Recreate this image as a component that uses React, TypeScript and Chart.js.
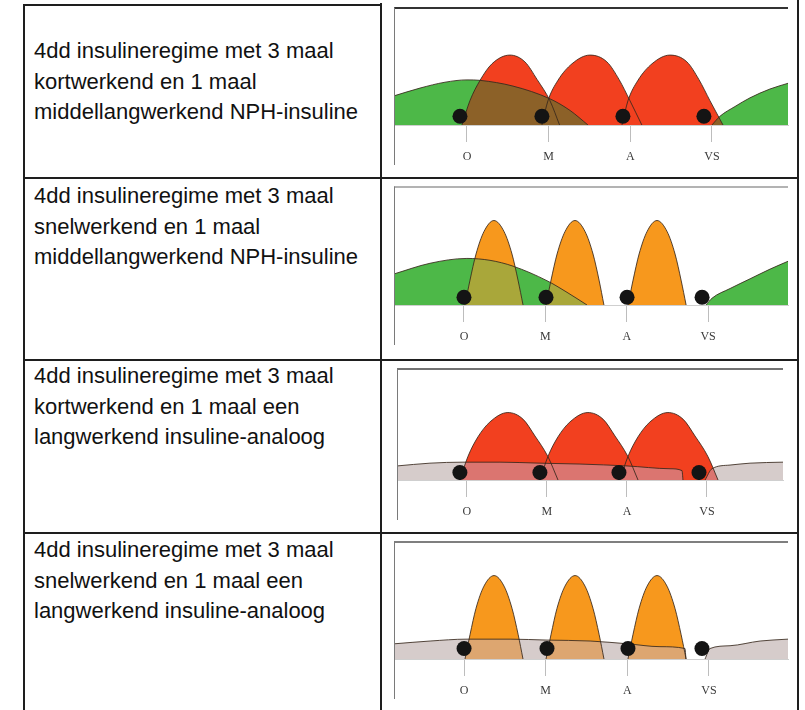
import React, { useEffect, useRef } from 'react';
import { Chart, registerables } from 'chart.js';

// ---------- data ----------
const tickHours = [8, 13, 18, 23];
const tickLabels = ['O', 'M', 'A', 'VS'];

const regimeTexts = [
  ['4dd insulineregime met 3 maal', 'kortwerkend en 1 maal', 'middellangwerkend NPH-insuline'],
  ['4dd insulineregime met 3 maal', 'snelwerkend en 1 maal', 'middellangwerkend NPH-insuline'],
  ['4dd insulineregime met 3 maal', 'kortwerkend en 1 maal een', 'langwerkend insuline-analoog'],
  ['4dd insulineregime met 3 maal', 'snelwerkend en 1 maal een', 'langwerkend insuline-analoog'],
];

// Row 1: kortwerkend (red) + NPH (green)
const r1PeakY = [0, 20.7, 38.0, 52.1, 59.5, 53.7, 38.8, 20.7, 0];
const r1Peak1X = [7.69, 8.18, 8.8, 9.53, 10.63, 11.55, 12.29, 13.08, 13.67];
const r1Peak2X = [12.59, 12.96, 13.57, 14.43, 15.53, 16.57, 17.31, 17.98, 18.71];
const r1Peak3X = [17.49, 17.86, 18.47, 19.33, 20.43, 21.47, 22.2, 22.88, 23.68];
const r1Basal1 = [[3.53, 24.8], [5.12, 31.4], [6.65, 36.4], [8.0, 38.4], [8.8, 38.0], [10.82, 33.1], [13.08, 22.3], [14.31, 12.4], [15.41, 0]];
const r1Basal2 = [[23.0, 0], [23.49, 7.4], [24.41, 15.7], [25.33, 23.1], [26.55, 30.6], [27.66, 35.5]];
const r1DotX = [7.57, 12.59, 17.55, 22.51];
const r1DotY = [7.4, 7.4, 7.4, 7.4];

// Row 2: snelwerkend (orange) + NPH (green)
const r2PeakY = [0, 21, 43, 62, 71.3, 62, 43, 21, 0];
const r2Peak1X = [8.06, 8.37, 8.74, 9.23, 9.84, 10.46, 10.95, 11.32, 11.63];
const r2Peak2X = [13.04, 13.35, 13.72, 14.21, 14.82, 15.44, 15.93, 16.3, 16.6];
const r2Peak3X = [18.08, 18.39, 18.76, 19.25, 19.86, 20.48, 20.97, 21.34, 21.65];
const r2Basal1 = [[3.7, 26.2], [5.91, 35.2], [8.18, 39.3], [9.6, 37.7], [11.01, 32.8], [13.1, 20.5], [14.33, 10.7], [15.56, 0]];
const r2Basal2 = [[22.87, 0], [23.24, 5.7], [24.35, 13.9], [25.58, 22.1], [26.81, 30.3], [27.91, 36.9]];
const r2DotX = [8.0, 13.04, 18.02, 22.63];
const r2DotY = [6.6, 6.6, 6.6, 6.6];

// Row 3: kortwerkend (red) + langwerkend analoog (grey)
const r3PeakY = [0, 21.0, 38.7, 52.1, 60.5, 54.6, 39.5, 21.0, 0];
const r3Peak1X = [7.56, 8.06, 8.69, 9.44, 10.56, 11.5, 12.25, 13.06, 13.69];
const r3Peak2X = [12.56, 13.06, 13.69, 14.44, 15.56, 16.5, 17.25, 18.06, 18.69];
const r3Peak3X = [17.56, 18.06, 18.69, 19.44, 20.56, 21.5, 22.25, 23.06, 23.69];
const r3Basal1 = [[3.63, 12.6], [5.69, 15.1], [7.75, 16.0], [10.06, 16.0], [12.56, 15.1], [15.06, 14.3], [18.0, 12.6], [20.69, 10.1], [21.44, 8.4], [21.5, 0]];
const r3Basal2 = [[22.88, 0], [23.31, 10.1], [24.44, 13.4], [25.69, 15.1], [27.75, 16.0]];
const r3DotX = [7.56, 12.56, 17.5, 22.5];
const r3DotY = [6.7, 6.7, 6.7, 6.7];

// Row 4: snelwerkend (orange) + langwerkend analoog (grey)
const r4PeakY = [0, 21, 43, 62, 71, 62, 43, 21, 0];
const r4Peak1X = [8.06, 8.37, 8.73, 9.22, 9.84, 10.45, 10.94, 11.31, 11.61];
const r4Peak2X = [13.02, 13.33, 13.69, 14.18, 14.8, 15.41, 15.9, 16.27, 16.57];
const r4Peak3X = [18.04, 18.35, 18.72, 19.21, 19.82, 20.43, 20.92, 21.29, 21.6];
const r4Basal1 = [[3.71, 12.9], [5.92, 15.3], [8.18, 16.9], [10.82, 16.9], [13.08, 16.1], [15.72, 15.3], [18.04, 12.9], [20.0, 10.5], [21.53, 8.9], [21.59, 0]];
const r4Basal2 = [[22.76, 0], [23.06, 8.9], [24.29, 11.3], [26.13, 15.3], [27.84, 16.9]];
const r4DotX = [8.0, 13.08, 18.04, 22.57];
const r4DotY = [8.9, 8.9, 8.9, 8.9];

// ---------- plugins ----------
const compositePlugin = {
  id: 'insulinComposite',
  beforeDatasetDraw(chart: any, args: any) {
    const ds: any = chart.data.datasets[args.index];
    chart.ctx.save();
    chart.ctx.globalCompositeOperation = ds.composite || 'source-over';
  },
  afterDatasetDraw(chart: any) {
    chart.ctx.restore();
  },
};
Chart.register(compositePlugin as any);
Chart.register(...registerables);

const framePlugin = {
  id: 'frameLines',
  afterDraw(chart: any, _a: any, opts: any) {
    const { ctx, chartArea } = chart;
    const xs = chart.scales.x;
    ctx.save();
    ctx.strokeStyle = opts.topColor;
    ctx.lineWidth = opts.topWidth;
    ctx.beginPath();
    ctx.moveTo(chartArea.left, chartArea.top + 0.5);
    ctx.lineTo(chartArea.right, chartArea.top + 0.5);
    ctx.stroke();
    ctx.strokeStyle = '#7a7a7a';
    ctx.lineWidth = 1;
    ctx.beginPath();
    ctx.moveTo(chartArea.left + 0.5, chartArea.top);
    ctx.lineTo(chartArea.left + 0.5, xs.bottom);
    ctx.stroke();
    ctx.restore();
  },
};

const RED = '#F2401F';
const ORANGE = '#F7981D';
const GREEN = '#4DB848';
const GREY = '#D6CCCB';
const OUTLINE = 'rgba(55,40,28,0.85)';

const rows = [
  {
    top: 0, height: 177, pad: { left: 12, right: 9, top: 4, bottom: 12 }, xmin: 3.53, xmax: 27.66,
    peaks: [r1Peak1X, r1Peak2X, r1Peak3X], peakY: r1PeakY, basal: [r1Basal1, r1Basal2],
    dotX: r1DotX, dotY: r1DotY, peakColor: RED, basalColor: GREEN, overlapColor: '#8C6128',
    topColor: '#333', topWidth: 2,
  },
  {
    top: 179, height: 180, pad: { left: 12, right: 9, top: 4, bottom: 14 }, xmin: 3.7, xmax: 27.91,
    peaks: [r2Peak1X, r2Peak2X, r2Peak3X], peakY: r2PeakY, basal: [r2Basal1, r2Basal2],
    dotX: r2DotX, dotY: r2DotY, peakColor: ORANGE, basalColor: GREEN, overlapColor: '#A9A73A',
    topColor: '#9a9a9a', topWidth: 1.5,
  },
  {
    top: 361, height: 171, pad: { left: 15, right: 14, top: 0, bottom: 12 }, xmin: 3.63, xmax: 27.75,
    peaks: [r3Peak1X, r3Peak2X, r3Peak3X], peakY: r3PeakY, basal: [r3Basal1, r3Basal2],
    dotX: r3DotX, dotY: r3DotY, peakColor: RED, basalColor: GREY, overlapColor: '#DB7570',
    topColor: '#444', topWidth: 1.5,
  },
  {
    top: 534, height: 176, pad: { left: 12, right: 9, top: 1, bottom: 11 }, xmin: 3.71, xmax: 27.84,
    peaks: [r4Peak1X, r4Peak2X, r4Peak3X], peakY: r4PeakY, basal: [r4Basal1, r4Basal2],
    dotX: r4DotX, dotY: r4DotY, peakColor: ORANGE, basalColor: GREY, overlapColor: '#DDA670',
    topColor: '#555', topWidth: 1.5,
  },
];

function RowChart({ cfg }: { cfg: any }) {
  const ref = useRef<HTMLCanvasElement>(null);
  useEffect(() => {
    if (!ref.current) return;
    const datasets: any[] = [];
    let seq = 0;
    const push = (d: any) => datasets.push({ ...d, order: 1000 - seq++ });
    const curve = {
      pointRadius: 0, cubicInterpolationMode: 'monotone', borderWidth: 0,
      borderColor: 'transparent', spanGaps: false,
    };
    const peakPts = cfg.peaks.map((xs: number[]) => xs.map((x, i) => ({ x, y: cfg.peakY[i] })));
    const basalPts = cfg.basal.map((b: number[][]) => b.map(([x, y]) => ({ x, y })));

    peakPts.forEach((d: any) => push({ ...curve, data: d, fill: 'origin', backgroundColor: cfg.peakColor, composite: 'source-over' }));
    basalPts.forEach((d: any) => push({ ...curve, data: d, fill: 'origin', backgroundColor: cfg.overlapColor, composite: 'source-atop' }));
    basalPts.forEach((d: any) => push({ ...curve, data: d, fill: 'origin', backgroundColor: cfg.basalColor, composite: 'destination-over' }));
    [...basalPts, ...peakPts].forEach((d: any) =>
      push({ ...curve, data: d, fill: false, borderWidth: 1, borderColor: OUTLINE, composite: 'source-over' }));
    push({
      data: cfg.dotX.map((x: number, i: number) => ({ x, y: cfg.dotY[i] })),
      showLine: false, pointRadius: 7.5, pointBackgroundColor: '#141414', pointBorderWidth: 0,
      pointBorderColor: '#141414', composite: 'source-over',
    });

    const chart = new Chart(ref.current, {
      type: 'line',
      data: { datasets },
      options: {
        animation: false,
        responsive: false,
        maintainAspectRatio: false,
        events: [],
        layout: { padding: cfg.pad },
        plugins: {
          legend: { display: false },
          tooltip: { enabled: false },
          frameLines: { topColor: cfg.topColor, topWidth: cfg.topWidth },
        } as any,
        scales: {
          x: {
            type: 'linear',
            min: cfg.xmin,
            max: cfg.xmax,
            z: 1,
            afterBuildTicks: (s: any) => { s.ticks = tickHours.map((v) => ({ value: v })); },
            afterFit: (s: any) => { s.height = 40; },
            ticks: {
              autoSkip: false,
              maxRotation: 0,
              padding: 8,
              color: '#3a3a3a',
              font: { family: '"Liberation Serif", "DejaVu Serif", serif', size: 12 },
              callback: (v: any) => {
                const i = tickHours.indexOf(Number(v));
                return i >= 0 ? tickLabels[i] : '';
              },
            },
            grid: { display: true, drawOnChartArea: false, drawTicks: true, tickLength: 17, color: '#bdbdbd', lineWidth: 1 },
            border: { display: true, color: '#cfcfcf', width: 1 },
          },
          y: { type: 'linear', display: false, min: 0, max: 100 },
        },
      } as any,
      plugins: [framePlugin as any],
    });
    return () => chart.destroy();
  }, [cfg]);
  return (
    <canvas
      ref={ref}
      width={415}
      height={cfg.height}
      style={{ position: 'absolute', left: 382, top: cfg.top, width: 415, height: cfg.height }}
    />
  );
}

const textTops = [36, 181, 361, 535];

export default function App() {
  const line = (s: any) => ({ position: 'absolute' as const, background: '#1e1e1e', ...s });
  return (
    <div style={{ position: 'absolute', left: 0, top: 0, width: 805, height: 710, background: '#fff', overflow: 'hidden' }}>
      {regimeTexts.map((lines, i) => (
        <div
          key={i}
          style={{
            position: 'absolute', left: 34, top: textTops[i], whiteSpace: 'nowrap',
            fontFamily: '"Liberation Sans", Arial, sans-serif', fontSize: 22, lineHeight: '30.5px', color: '#111',
          }}
        >
          {lines.map((l, j) => (<div key={j}>{l}</div>))}
        </div>
      ))}
      {rows.map((cfg, i) => (<RowChart key={i} cfg={cfg} />))}
      <div style={line({ left: 23, top: 4, width: 359, height: 2 })} />
      <div style={line({ left: 23, top: 4, width: 2, height: 706 })} />
      <div style={line({ left: 380, top: 3, width: 2, height: 707 })} />
      <div style={line({ left: 797, top: 0, width: 2, height: 710 })} />
      <div style={line({ left: 23, top: 177, width: 776, height: 2 })} />
      <div style={line({ left: 23, top: 359, width: 776, height: 2 })} />
      <div style={line({ left: 23, top: 532, width: 776, height: 2 })} />
    </div>
  );
}
